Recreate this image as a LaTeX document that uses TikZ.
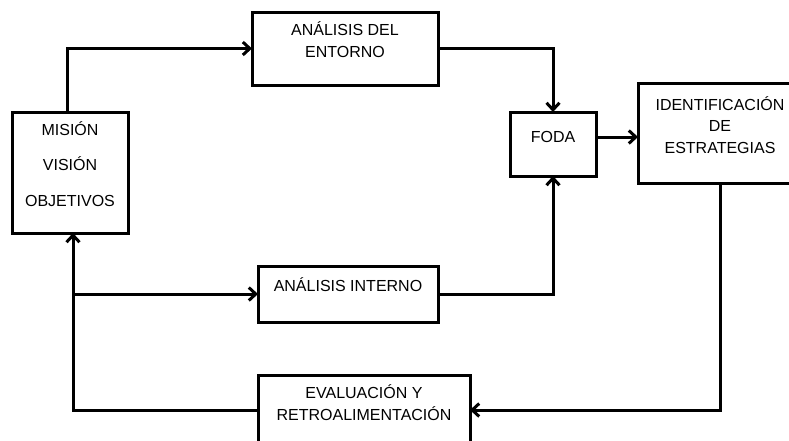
\documentclass[tikz,border=0pt]{standalone}
\usepackage{fontspec}
\setmainfont{Liberation Sans}
\usetikzlibrary{arrows.meta,calc}
\begin{document}
\begin{tikzpicture}[x=1pt,y=-1pt,
  box/.style={draw,line width=3pt,inner sep=0pt,outer sep=0pt},
  lbl/.style={anchor=base,align=center,inner sep=0pt,font=\fontsize{16}{21.5}\selectfont},
  link/.style={line width=3pt,-{Straight Barb[length=7pt,width=13pt]}}]
\useasboundingbox (0,0) rectangle (789,440);
\clip (0,0) rectangle (789,440);

% boxes
\node[box,minimum width=116pt,minimum height=121pt] (mvo) at (70,172.5) {};
\node[box,minimum width=186pt,minimum height=73pt] (ent) at (345,48.5) {};
\node[box,minimum width=86pt,minimum height=64pt] (foda) at (553,144) {};
\node[box,minimum width=164pt,minimum height=100pt] (ide) at (720,133) {};
\node[box,minimum width=180pt,minimum height=56pt] (int) at (348,294) {};
\node[box,minimum width=212pt,minimum height=70pt] (eva) at (364,410) {};

% texts (the base anchor sits on the last line)
\node[lbl,font=\fontsize{16}{35.5}\selectfont] (tmvo) at ($(mvo.north)+(0,94)$) {MISIÓN\\VISIÓN\\OBJETIVOS};
\node[lbl] (tent) at ($(ent.north)+(0,45)$) {ANÁLISIS DEL\\ENTORNO};
\node[lbl] (tfoda) at ($(foda.north)+(0,30.5)$) {FODA};
\node[lbl] (tide) at ($(ide.north)+(0,70)$) {IDENTIFICACIÓN\\DE\\ESTRATEGIAS};
\node[lbl] (tint) at ($(int.north)+(0,25.7)$) {ANÁLISIS INTERNO};
\node[lbl] (teva) at ($(eva.north)+(0,45)$) {EVALUACIÓN Y\\RETROALIMENTACIÓN};

% connectors
\coordinate (up) at ($(mvo.north)+(-3,0)$);
\coordinate (dn) at ($(mvo.south)+(3,0)$);
\coordinate (fe) at ($(foda.east)+(0,-7)$);
\draw[link] (up) |- (ent.west);
\draw[link] (ent.east) -| (foda.north);
\draw[link] (fe) -- (fe -| ide.west);
\draw[link] (ide.south) |- (eva.east);
\draw[link] (eva.west) -| (dn);
\draw[link] (dn |- int.west) -- (int.west);
\draw[link] (int.east) -| (foda.south);
\end{tikzpicture}
\end{document}
